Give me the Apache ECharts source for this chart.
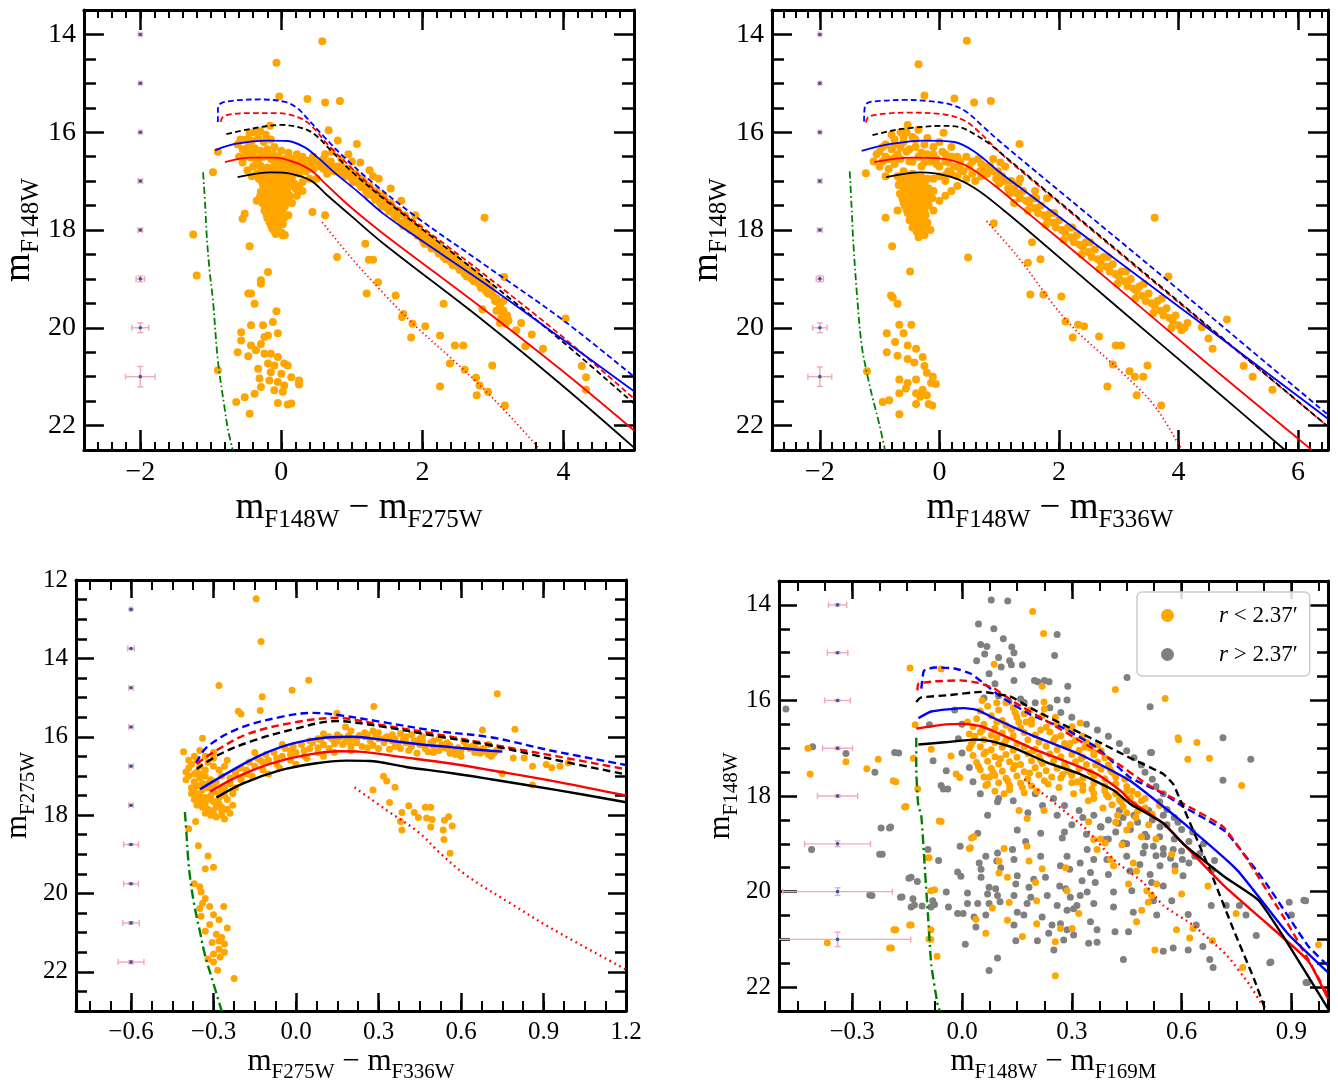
<!DOCTYPE html>
<html><head><meta charset="utf-8">
<script src="https://cdn.jsdelivr.net/npm/echarts@6/dist/echarts.min.js"></script>
<style>html,body{margin:0;padding:0;background:#fff}#c{width:1338px;height:1084px}</style>
</head><body><div id="c"></div>
<script>
// ---------------- tick labels ----------------
const p1XTicks=[-2,0,2,4], p2XTicks=[-2,0,2,4,6], p12YTicks=[14,16,18,20,22];
const p3XTicks=[-0.6,-0.3,0,0.3,0.6,0.9,1.2], p3YTicks=[12,14,16,18,20,22];
const p4XTicks=[-0.3,0,0.3,0.6,0.9], p4YTicks=[14,16,18,20,22];

// ---------------- panel 1: F148W vs F148W-F275W ----------------
const p1Base=[
[0.58,14.14],[-0.07,14.58],[-0.03,15.27],[0.37,15.32],[0.62,15.39],[0.83,15.36],[-0.16,15.87],[0.67,15.96],[0.8,16.17],[1.07,16.24],
[-0.9,16.4],[-0.97,16.82],[-0.45,16.02],[-0.38,16.0],[-0.3,15.98],[-0.22,16.05],[-0.5,16.15],[-0.42,16.18],[-0.33,16.12],[-0.25,16.2],[-0.15,16.15],[-0.55,16.35],[-0.47,16.3],[-0.38,16.33],[-0.3,16.38],[-0.2,16.35],[-0.1,16.3],[0.0,16.38],[0.1,16.42],[-0.52,16.5],[-0.43,16.52],[-0.33,16.55],[-0.25,16.5],[-0.15,16.55],[-0.05,16.5],[0.05,16.55],[0.15,16.55],[0.22,16.45],[-0.4,16.7],[-0.3,16.68],[-0.2,16.72],[-0.1,16.68],[0.0,16.7],[0.1,16.75],[0.2,16.7],[0.3,16.65],[0.38,16.58],[0.45,16.5],[-0.35,16.85],[-0.25,16.88],[-0.15,16.85],[-0.05,16.9],[0.05,16.88],[0.15,16.92],[0.25,16.85],[0.35,16.8],[0.45,16.75],[0.55,16.7],[0.6,16.55],[0.4,16.95],[0.3,17.02],[0.5,16.95],[0.65,16.85],
[-0.28,17.0],[-0.2,17.05],[-0.12,17.02],[-0.04,17.05],[0.04,17.05],[-0.25,17.15],[-0.17,17.18],[-0.09,17.15],[-0.01,17.2],[0.08,17.2],[-0.3,17.3],[-0.22,17.32],[-0.14,17.3],[-0.06,17.35],[0.02,17.35],[0.12,17.3],[-0.27,17.45],[-0.19,17.48],[-0.11,17.45],[-0.03,17.5],[0.05,17.52],[-0.24,17.6],[-0.16,17.62],[-0.08,17.6],[0.0,17.65],[-0.2,17.75],[-0.12,17.78],[-0.04,17.8],[-0.15,17.9],[-0.07,17.92],[0.02,17.88],[-0.1,18.02],[0.05,18.1],[-0.35,17.4],[0.15,17.45],[0.22,17.3],[0.3,17.2],[0.12,17.1],[0.2,17.15],[0.62,17.7],[-0.52,17.67],[-0.55,17.77],[-0.45,18.33],[0.02,18.11],[0.1,17.7],[0.44,17.63],
[0.45,16.5],[0.55,16.62],[0.6,16.75],[0.7,16.6],[0.75,16.8],[0.85,16.7],[0.9,16.9],[0.95,16.75],[1.0,16.95],[1.05,16.85],[1.1,17.05],[1.15,16.95],[1.2,17.2],[1.25,17.1],[1.3,17.3],[1.35,17.2],[1.4,17.45],[1.45,17.3],[1.5,17.55],[1.55,17.45],[1.6,17.7],[1.65,17.6],[1.7,17.85],[1.75,17.7],[1.8,17.95],[1.85,17.85],[1.9,18.05],[1.95,17.95],[2.0,18.2],[2.05,18.1],[2.1,18.3],[2.15,18.2],[2.2,18.4],[2.25,18.35],[2.3,18.55],[2.35,18.45],[2.4,18.65],[2.45,18.55],[2.5,18.75],[2.55,18.7],[2.6,18.9],[2.65,18.8],[2.7,19.0],[2.75,18.9],[2.8,19.1],[2.85,19.05],[2.9,19.25],[2.95,19.15],[3.0,19.35],[3.05,19.4],[3.1,19.55],[3.15,19.65],[3.12,19.8],[3.18,19.92],[3.05,19.65],[1.0,16.6],[1.3,16.9],[0.95,16.45],[1.12,16.62],[1.25,16.78],[1.38,16.95],[1.55,17.15],[0.72,16.4],[0.85,16.55],[1.7,17.4],[1.9,17.7],
[-0.19,18.86],[-0.29,19.03],[-0.29,19.1],[-0.47,19.3],[-0.43,19.3],[-0.38,19.51],[-0.07,19.66],[-0.12,19.88],[-0.43,19.95],[-0.26,19.95],[-0.57,20.09],[-0.19,20.16],[-0.05,20.11],[-0.24,20.19],[-0.57,20.26],[-0.43,20.36],[-0.29,20.33],[-0.62,20.5],[-0.36,20.46],[-0.24,20.53],[-0.15,20.53],[-0.05,20.6],[-0.47,20.58],[-0.19,20.73],[-0.1,20.77],[0.04,20.73],[0.09,20.77],[-0.33,20.84],[-0.15,20.91],[0.0,20.94],[0.14,21.01],[0.25,21.08],[0.25,21.16],[-0.31,21.04],[-0.17,21.08],[-0.05,21.11],[0.04,21.18],[-0.29,21.21],[-0.1,21.28],[0.02,21.31],[-0.52,21.42],[-0.38,21.35],[-0.64,21.52],[-0.05,21.54],[0.09,21.57],[0.14,21.55],[-0.45,21.76],[-0.9,20.87],[-1.2,18.93],[-1.25,18.09],
[2.88,17.75],[3.16,18.96],[1.19,18.28],[0.79,18.55],[1.24,18.61],[1.3,18.61],[1.37,19.07],[1.21,19.3],[1.62,19.34],[2.3,19.51],[1.71,19.78],[1.73,19.72],[1.86,19.92],[2.04,19.97],[1.84,20.2],[2.25,20.16],[2.46,20.36],[2.58,20.36],[2.39,20.73],[2.6,20.86],[2.76,21.02],[2.25,21.2],[2.77,21.38],[2.99,20.77],[2.81,21.18],[2.93,21.31],[2.85,19.62],[3.4,19.9],[3.33,20.05],[3.55,20.14],[3.71,20.43],[3.46,20.38],[4.03,19.81],[4.26,20.78],[4.32,21.01],[4.32,21.27],[3.17,21.59]
];
const p1Extra=[
[0.5,16.6],[0.62,16.65],[0.68,16.72],[0.78,16.7],[0.82,16.82],[0.88,16.8],[0.98,16.85],[1.02,17.02],[1.08,16.95],[1.13,17.12],[1.18,17.05],[1.22,17.28],[1.28,17.2],[1.33,17.38],[1.38,17.3],[1.43,17.52],[1.48,17.42],[1.53,17.62],[1.58,17.55],[1.63,17.75],[1.68,17.68],[1.73,17.92],[1.78,17.8],[1.83,18.0],[1.88,17.92],[1.93,18.12],[1.98,18.05],[2.03,18.28],[2.08,18.15],[2.13,18.38],[2.18,18.28],[2.23,18.48],[2.28,18.4],[2.33,18.6],[2.38,18.5],[2.43,18.72],[2.48,18.62],[2.53,18.82],[2.58,18.75],[2.63,18.95],[2.68,18.85],[2.73,19.05],[2.78,18.98],[2.83,19.18],[2.88,19.1],[2.93,19.3],[2.98,19.22],[3.03,19.45],[3.08,19.48],[3.13,19.7],[3.15,19.45],[3.2,19.75],[3.1,19.9],[3.22,19.85],
[-0.32,16.95],[-0.26,17.08],[-0.18,17.1],[-0.1,17.1],[-0.02,17.12],[0.06,17.12],[-0.29,17.22],[-0.21,17.24],[-0.13,17.22],[-0.05,17.27],[0.04,17.28],[-0.26,17.38],[-0.18,17.4],[-0.1,17.38],[-0.02,17.42],[0.08,17.42],[-0.23,17.53],[-0.15,17.55],[-0.07,17.54],[0.02,17.58],[-0.21,17.68],[-0.12,17.7],[-0.04,17.72],[0.04,17.75],[-0.17,17.83],[-0.09,17.85],[-0.01,17.87],[-0.13,17.97],[-0.05,18.0],[-0.08,18.08],[0.0,18.05],[-0.3,16.95],[-0.22,16.95],[-0.14,16.97],[-0.06,16.98],[0.02,16.98],[0.1,17.0],[0.18,17.05],[0.25,17.1],[-0.42,16.9],[-0.48,16.78],[-0.55,16.62],[-0.6,16.5],[-0.62,16.25],[-0.58,16.15],[-0.48,16.42],[-0.4,16.45],[-0.35,16.62],[-0.28,16.78],[-0.18,16.78],[-0.08,16.8],[0.02,16.82],[0.12,16.82],[0.22,16.78],[0.32,16.72],[0.42,16.68],[0.52,16.6],[0.62,16.45],[0.3,16.5],[0.25,16.6],[0.15,16.65],[0.05,16.62],[-0.05,16.6],[-0.12,16.45],[-0.2,16.45],[-0.28,16.45]
];
const p1Pts=p1Base.concat(p1Extra);
const p1BlueDash=[[-0.9,15.79],[-0.9,15.55],[-0.87,15.42],[-0.66,15.35],[-0.3,15.33],[0.05,15.38],[0.22,15.5],[0.37,15.72],[0.61,16.1],[0.89,16.51],[1.26,16.99],[1.92,17.74],[2.86,18.69],[4.0,19.85],[5.0,21.0]];
const p1RedDash=[[-0.86,15.79],[-0.83,15.69],[-0.7,15.63],[-0.43,15.61],[-0.05,15.61],[0.23,15.69],[0.42,15.86],[0.65,16.24],[0.98,16.71],[1.45,17.33],[2.86,18.89],[4.0,20.2],[5.0,21.45]];
const p1BlackDash=[[-0.78,16.04],[-0.43,15.93],[0.0,15.85],[0.28,15.91],[0.46,16.03],[0.7,16.37],[0.98,16.78],[1.45,17.36],[2.86,18.96],[4.0,20.3],[5.0,21.55]];
const p1BlueSolid=[[-0.94,16.37],[-0.66,16.24],[-0.19,16.17],[0.09,16.18],[0.32,16.3],[0.51,16.51],[0.75,16.82],[1.07,17.2],[1.45,17.67],[1.92,18.15],[2.86,19.07],[4.0,20.25],[5.0,21.3]];
const p1RedSolid=[[-0.8,16.61],[-0.43,16.52],[-0.1,16.52],[0.18,16.61],[0.42,16.78],[0.65,17.09],[0.98,17.53],[1.45,18.08],[2.86,19.61],[4.0,20.9],[5.0,22.1]];
const p1BlackSolid=[[-0.62,16.92],[-0.15,16.82],[0.14,16.85],[0.42,16.99],[0.65,17.29],[0.98,17.7],[1.45,18.28],[2.86,19.85],[4.0,21.2],[5.0,22.45]];
const p1Green=[[-1.11,16.82],[-1.08,17.5],[-1.06,18.08],[-1.02,18.8],[-0.97,19.44],[-0.9,20.67],[-0.8,21.69],[-0.76,22.06],[-0.69,22.5]];
const p1RedDot=[[0.58,17.84],[0.98,18.55],[1.45,19.3],[1.92,19.99],[2.39,20.6],[2.84,21.21],[3.3,21.9],[3.64,22.45]];
const p1Err=[[-2,14,0.02,0.02],[-2,15,0.02,0.02],[-2,16,0.02,0.02],[-2,17,0.03,0.03],[-2,18,0.03,0.03],[-2,19,0.06,0.06],[-2,20,0.12,0.1],[-2,21,0.21,0.21]];

// ---------------- panel 2: F148W vs F148W-F336W ----------------
const p2Base=[
[0.46,14.13],[-0.35,14.61],[-0.25,15.25],[0.25,15.31],[0.58,15.39],[0.86,15.36],[-0.53,15.85],[0.07,16.01],[1.34,16.24],[-1.23,16.84],
[-1.05,16.45],[-0.95,16.3],[-0.9,16.5],[-0.8,16.05],[-0.75,16.25],[-0.7,16.45],[-0.65,16.0],[-0.6,16.2],[-0.55,16.4],[-0.5,16.6],[-0.45,16.1],[-0.4,16.3],[-0.35,16.5],[-0.3,16.7],[-0.25,16.25],[-0.2,16.45],[-0.15,16.6],[-0.1,16.3],[-0.05,16.55],[0.0,16.7],[0.05,16.4],[0.1,16.6],[0.15,16.8],[0.2,16.5],[0.25,16.7],[0.3,16.9],[0.35,16.6],[0.4,16.8],[0.45,16.95],[0.5,16.7],[0.55,16.85],[-1.0,16.7],[-0.85,16.75],[-0.75,16.65],[-0.6,16.8],[-0.45,16.85],[-0.9,16.9],[-1.1,16.6],[0.6,17.0],[0.3,17.1],[0.1,17.0],[-0.55,16.0],[-0.35,15.95],[0.7,16.9],[0.8,16.7],
[-0.65,17.0],[-0.55,16.95],[-0.45,17.0],[-0.35,17.0],[-0.25,17.05],[-0.6,17.15],[-0.5,17.2],[-0.4,17.18],[-0.3,17.2],[-0.2,17.25],[-0.62,17.35],[-0.52,17.35],[-0.42,17.38],[-0.32,17.35],[-0.22,17.4],[-0.12,17.35],[-0.58,17.5],[-0.48,17.52],[-0.38,17.5],[-0.28,17.55],[-0.18,17.5],[-0.53,17.65],[-0.43,17.68],[-0.33,17.65],[-0.23,17.7],[-0.5,17.8],[-0.4,17.82],[-0.3,17.8],[-0.2,17.85],[-0.45,17.95],[-0.35,17.97],[-0.25,17.92],[-0.3,18.1],[-0.15,18.0],[-0.1,17.6],[0.0,17.4],[0.1,17.3],[-0.7,17.6],[-0.9,17.75],[-0.79,18.33],[-0.25,18.1],[-0.1,17.2],[0.2,17.2],[0.48,18.56],[0.91,17.86],
[0.65,16.55],[0.75,16.75],[0.85,16.7],[0.95,16.95],[1.05,16.9],[1.15,17.15],[1.2,17.0],[1.3,17.25],[1.4,17.2],[1.45,17.4],[1.55,17.35],[1.6,17.55],[1.7,17.5],[1.75,17.7],[1.85,17.65],[1.9,17.85],[2.0,17.8],[2.05,18.0],[2.15,17.95],[2.2,18.15],[2.3,18.1],[2.35,18.3],[2.45,18.25],[2.5,18.45],[2.6,18.4],[2.65,18.6],[2.75,18.55],[2.8,18.75],[2.9,18.7],[2.95,18.9],[3.05,18.85],[3.1,19.05],[3.2,19.0],[3.25,19.2],[3.35,19.15],[3.4,19.35],[3.5,19.3],[3.55,19.5],[3.65,19.45],[3.7,19.65],[3.8,19.6],[3.85,19.8],[3.95,19.75],[4.0,19.95],[4.1,20.0],[0.9,16.55],[1.1,16.7],[1.35,16.95],[1.6,17.2],[1.25,17.45],[1.8,17.35],
[1.55,18.25],[1.69,18.6],[1.48,18.67],[1.74,19.32],[1.52,19.32],[2.04,19.36],[2.11,19.87],[2.32,19.94],[2.42,19.97],[2.23,20.2],[2.67,20.18],[2.95,20.36],[3.04,20.36],[2.9,20.75],[3.18,20.89],[3.27,21.0],[3.41,21.0],[3.48,20.77],[2.81,21.2],[3.3,21.38],[3.71,21.59],[3.6,17.75],[3.83,18.95],[4.81,19.83],[4.5,20.22],[4.57,20.43],[4.39,19.99],[5.09,20.78],[5.24,21.0],[5.57,21.27],
[-0.49,18.85],[-0.81,19.34],[-0.78,19.38],[-0.7,19.51],[-0.88,20.11],[-0.67,19.94],[-0.47,19.94],[-0.6,20.11],[-0.74,20.29],[-0.53,20.36],[-0.88,20.5],[-0.7,20.57],[-0.39,20.43],[-0.53,20.64],[-0.42,20.71],[-0.25,20.78],[-0.28,20.6],[-0.21,20.92],[-0.11,21.0],[-0.67,21.06],[-0.53,21.13],[-0.39,21.06],[-0.14,21.13],[-0.06,21.15],[-0.56,21.24],[-0.28,21.27],[-0.39,21.34],[-0.67,21.34],[-0.95,21.52],[-0.84,21.48],[-0.32,21.41],[-0.18,21.56],[-0.12,21.59],[-0.67,21.77],[-1.21,20.89],[-0.39,21.56],[-0.21,21.38]
];
const p2Extra=[
[0.7,16.65],[0.8,16.85],[0.9,16.8],[1.0,17.05],[1.1,17.0],[1.25,17.15],[1.35,17.35],[1.5,17.45],[1.65,17.65],[1.8,17.75],[1.95,17.95],[2.1,18.05],[2.25,18.25],[2.4,18.35],[2.55,18.55],[2.7,18.65],[2.85,18.85],[3.0,18.95],[3.15,19.15],[3.3,19.25],[3.45,19.45],[3.6,19.55],[3.75,19.75],[3.9,19.85],[4.05,20.05],[4.15,19.9],[0.68,16.8],[0.98,16.8],[1.18,17.25],[1.48,17.6],[1.78,17.9],[2.08,18.2],[2.38,18.5],[2.68,18.8],[2.98,19.1],[3.28,19.4],[3.58,19.7],[3.88,20.0],[1.02,16.62],[1.32,17.05],[1.62,17.35],[1.92,17.65],[2.22,17.95],[2.52,18.25],[2.82,18.55],[3.12,18.85],[3.42,19.1],[3.72,19.4],
[-0.68,17.08],[-0.58,17.08],[-0.48,17.1],[-0.38,17.1],[-0.28,17.12],[-0.18,17.15],[-0.66,17.26],[-0.56,17.28],[-0.46,17.28],[-0.36,17.28],[-0.26,17.3],[-0.16,17.3],[-0.6,17.43],[-0.5,17.44],[-0.4,17.44],[-0.3,17.45],[-0.2,17.45],[-0.55,17.58],[-0.45,17.6],[-0.35,17.58],[-0.25,17.62],[-0.48,17.74],[-0.38,17.75],[-0.28,17.74],[-0.43,17.88],[-0.33,17.9],[-0.23,17.88],[-0.38,18.03],[-0.28,18.02],[-0.35,18.15],[-0.7,16.9],[-0.6,16.9],[-0.5,16.88],[-0.4,16.9],[-0.3,16.92],[-0.2,16.95],[-0.1,16.95],[0.0,16.9],[0.1,16.88],[0.2,16.85],[-0.95,16.6],[-0.85,16.55],[-0.75,16.52],[-0.65,16.55],[-0.45,16.6],[-0.25,16.62],[-0.05,16.65],[0.15,16.62],[0.35,16.75],[-1.0,16.4],[-0.9,16.25],[-0.8,16.35],[-0.65,16.32],[-0.5,16.35],[-0.3,16.42],[-0.1,16.45],[0.1,16.45],[0.3,16.5],[-0.75,16.15],[-0.6,16.1],[-0.4,16.15],[-0.2,16.12],[0.0,16.2],[0.2,16.3],[0.45,16.5],[0.55,16.6]
];
const p2Pts=p2Base.concat(p2Extra);
const p2BlueDash=[[-1.26,15.78],[-1.25,15.5],[-1.2,15.4],[-1.0,15.36],[-0.6,15.34],[-0.2,15.36],[0.18,15.43],[0.45,15.58],[0.7,15.85],[1.02,16.2],[2.5,17.7],[4.0,19.22],[6.5,21.78]];
const p2RedDash=[[-1.23,15.8],[-1.18,15.68],[-0.9,15.62],[-0.53,15.6],[0.04,15.63],[0.4,15.75],[0.65,15.98],[0.9,16.28],[1.2,16.62],[2.5,17.95],[4.0,19.48],[6.5,22.02]];
const p2BlackDash=[[-1.12,16.06],[-0.8,15.97],[-0.53,15.92],[0.04,15.87],[0.35,15.9],[0.6,16.05],[0.85,16.25],[1.1,16.5],[2.5,17.93],[4.0,19.46],[6.5,22.02]];
const p2BlueSolid=[[-1.3,16.38],[-0.81,16.24],[-0.25,16.17],[0.25,16.2],[0.6,16.41],[1.02,16.83],[1.5,17.27],[3.0,18.65],[4.5,20.02],[6.5,21.86]];
const p2RedSolid=[[-1.09,16.61],[-0.46,16.52],[0.04,16.54],[0.46,16.69],[0.88,17.05],[1.3,17.47],[3.0,19.2],[4.5,20.75],[6.23,22.5]];
const p2BlackSolid=[[-0.89,16.92],[-0.32,16.82],[0.18,16.91],[0.6,17.15],[1.09,17.61],[1.5,18.03],[3.0,19.6],[4.5,21.16],[5.78,22.5]];
const p2Green=[[-1.5,16.8],[-1.47,17.5],[-1.44,18.25],[-1.38,19.3],[-1.3,20.36],[-1.2,21.0],[-1.12,21.42],[-1.0,22.0],[-0.91,22.5]];
const p2RedDot=[[0.79,17.82],[1.3,18.53],[2.14,19.87],[3.06,20.92],[3.6,21.6],[4.01,22.4],[4.06,22.5]];
const p2Err=[[-2,14,0.02,0.02],[-2,15,0.02,0.02],[-2,16,0.02,0.02],[-2,17,0.03,0.03],[-2,18,0.04,0.03],[-2,19,0.06,0.06],[-2,20,0.12,0.1],[-2,21,0.2,0.2]];

// ---------------- panel 3: F275W vs F275W-F336W ----------------
const p3Base=[
[-0.145,12.48],[-0.127,13.57],[-0.28,14.69],[0.046,14.56],[-0.123,14.98],[-0.014,14.81],[0.732,14.9],[-0.13,15.33],[-0.21,15.35],[-0.2,15.42],[0.283,15.23],[0.678,15.83],[0.796,15.81],[0.149,15.4],[-0.409,16.38],[-0.34,16.04],
[-0.38,16.7],[-0.36,16.9],[-0.39,17.0],[-0.37,17.15],[-0.35,17.05],[-0.33,16.85],[-0.32,17.2],[-0.38,17.3],[-0.36,17.45],[-0.34,17.35],[-0.31,17.5],[-0.35,17.6],[-0.33,17.7],[-0.3,17.65],[-0.32,17.85],[-0.29,17.8],[-0.3,17.95],[-0.27,17.9],[-0.26,18.1],[-0.28,17.55],[-0.4,16.9],[-0.36,16.6],[-0.33,16.5],[-0.3,16.4],[-0.35,16.35],[-0.37,17.6],[-0.34,17.8],[-0.31,18.0],[-0.28,17.7],[-0.25,17.6],[-0.23,17.45],[-0.27,17.35],[-0.3,17.25],[-0.24,17.2],[-0.2,17.1],[-0.22,17.3],
[-0.27,17.0],[-0.22,16.95],[-0.18,16.85],[-0.2,17.05],[-0.15,16.75],[-0.12,16.85],[-0.1,16.6],[-0.07,16.7],[-0.05,16.5],[-0.02,16.6],[0.0,16.4],[0.03,16.5],[0.05,16.3],[0.08,16.4],[0.1,16.2],[0.12,16.3],[0.15,16.1],[0.17,16.2],[0.2,16.05],[0.22,16.15],[0.25,16.0],[0.27,16.1],[0.3,16.05],[0.32,16.15],[0.35,16.1],[0.37,16.2],[0.4,16.15],[0.42,16.25],[0.45,16.2],[0.47,16.3],[0.5,16.25],[0.52,16.35],[0.55,16.3],[0.57,16.4],[0.6,16.35],[0.62,16.25],[0.65,16.4],[0.68,16.3],[0.7,16.45],[0.73,16.35],[0.2,15.85],[0.25,15.9],[0.15,15.95],[0.3,15.9],[0.35,15.95],[0.12,16.0],[0.4,16.0],[0.45,16.05],[0.05,16.1],[-0.05,16.2],[-0.15,16.4],[-0.25,16.6],[-0.3,16.75],[0.18,15.75],[0.1,16.5],[0.0,16.7],[-0.1,16.95],[0.2,16.35],[0.3,16.3],[0.5,16.4],[0.55,16.15],[0.65,16.2],
[0.75,16.94],[0.79,16.54],[0.83,16.54],[0.86,16.75],[0.91,16.71],[0.93,16.79],[0.96,16.75],[0.99,16.67],[0.86,17.23],[0.71,16.5],
[0.318,17.01],[0.33,17.13],[0.28,17.36],[0.36,17.29],[0.34,17.68],[0.385,17.93],[0.38,18.16],[0.41,17.76],[0.43,17.93],[0.445,18.06],[0.47,17.8],[0.49,17.8],[0.475,18.07],[0.495,18.11],[0.54,18.13],[0.568,18.28],[0.49,18.3],[0.535,18.38],[0.538,18.62],[0.385,18.38],[0.56,18.97],[0.555,18.04],
[-0.365,18.16],[-0.39,18.35],[-0.355,18.78],[-0.32,19.04],[-0.33,19.37],[-0.3,19.33],[-0.37,19.75],[-0.35,19.83],[-0.345,19.96],[-0.33,20.13],[-0.314,20.33],[-0.263,20.33],[-0.35,20.38],[-0.3,20.54],[-0.345,20.58],[-0.28,20.67],[-0.314,20.79],[-0.25,20.88],[-0.33,20.96],[-0.29,21.04],[-0.27,21.12],[-0.305,21.25],[-0.26,21.29],[-0.28,21.42],[-0.3,21.54],[-0.276,21.62],[-0.26,21.5],[-0.3,21.75],[-0.285,21.96],[-0.225,22.17],[-0.32,21.67],[-0.28,21.21],[-0.34,20.25]
];
const p3Extra=[
[-0.39,16.8],[-0.37,16.95],[-0.35,16.95],[-0.33,17.0],[-0.31,17.1],[-0.29,17.15],[-0.36,17.25],[-0.34,17.2],[-0.32,17.3],[-0.3,17.4],[-0.28,17.45],[-0.26,17.5],[-0.37,17.4],[-0.35,17.5],[-0.33,17.55],[-0.31,17.6],[-0.29,17.72],[-0.27,17.8],[-0.25,17.85],[-0.33,17.95],[-0.31,17.88],[-0.29,18.05],[-0.27,18.0],[-0.24,17.95],[-0.23,17.75],[-0.26,17.3],[-0.24,17.05],[-0.22,16.9],[-0.4,17.1],[-0.38,17.45],[-0.36,17.75],[-0.34,17.65],[-0.39,16.6],[-0.37,16.5],[-0.35,16.75],[-0.32,16.65],[-0.3,16.55],[-0.28,16.85],[-0.26,16.75],[-0.2,16.8],[-0.17,16.65],[-0.14,16.55],[-0.11,16.45],[-0.08,16.4],[-0.04,16.3],[-0.01,16.25],[0.02,16.2],[0.06,16.15],[0.09,16.08],[0.13,16.05],[0.16,16.0],[0.19,15.98],[0.23,15.97],[0.26,15.95],[0.29,15.98],[0.33,16.0],[0.36,16.05],[0.39,16.08],[0.43,16.1],[0.46,16.12],[0.49,16.15],[0.53,16.2],[0.56,16.22],[0.59,16.28],[0.63,16.3],[0.66,16.33],[0.69,16.38],[0.72,16.42],[0.18,16.12],[0.28,16.22],[0.38,16.3],[0.48,16.38],[0.58,16.45],[0.08,16.28],[-0.02,16.45],[-0.12,16.65],[-0.22,16.88],[0.24,16.25],[0.34,16.32],[0.44,16.42],[0.14,16.4],[0.04,16.55],[-0.06,16.8],[-0.16,17.0],
[0.1,15.92],[0.14,16.18],[0.2,16.22],[0.26,16.28],[0.32,16.05],[0.36,16.25],[0.41,16.35],[0.46,16.0],[0.5,16.1],[0.54,16.28],[0.58,16.35],[0.61,16.12],[0.64,16.25],[0.67,16.42],[0.7,16.2],[0.74,16.3],[0.08,16.05],[0.22,16.05],[0.28,15.85],[0.38,15.92],[0.42,15.95],[0.52,16.05],[0.56,16.42],[0.6,16.5],[0.03,16.35],[-0.02,16.35],[-0.07,16.55],[-0.13,16.6],[-0.18,16.95],[-0.24,17.15]
];
const p3Pts=p3Base.concat(p3Extra);
const p3BlueDash=[[-0.363,16.67],[-0.325,16.27],[-0.216,15.81],[-0.059,15.5],[0.062,15.39],[0.158,15.45],[0.327,15.64],[0.508,15.85],[0.714,16.02],[0.926,16.35],[1.2,16.72]];
const p3RedDash=[[-0.361,16.69],[-0.301,16.4],[-0.18,15.94],[-0.011,15.64],[0.146,15.52],[0.327,15.72],[0.508,15.93],[0.714,16.2],[0.95,16.5],[1.2,16.83]];
const p3BlackDash=[[-0.361,16.82],[-0.276,16.44],[-0.156,16.1],[-0.011,15.81],[0.146,15.6],[0.303,15.73],[0.508,15.98],[0.714,16.23],[0.95,16.6],[1.2,16.96]];
const p3BlueSolid=[[-0.349,17.34],[-0.253,16.94],[-0.132,16.48],[-0.011,16.17],[0.11,16.02],[0.207,16.0],[0.327,16.09],[0.448,16.19],[0.569,16.27],[0.66,16.33],[0.75,16.38]];
const p3RedSolid=[[-0.313,17.4],[-0.216,17.03],[-0.095,16.69],[0.025,16.48],[0.158,16.37],[0.23,16.38],[0.388,16.52],[0.569,16.69],[0.714,16.86],[0.95,17.15],[1.2,17.5]];
const p3BlackSolid=[[-0.289,17.55],[-0.192,17.19],[-0.059,16.86],[0.062,16.69],[0.182,16.61],[0.267,16.62],[0.4,16.77],[0.569,16.93],[0.714,17.09],[0.95,17.36],[1.2,17.67]];
const p3Green=[[-0.404,17.92],[-0.398,18.5],[-0.393,19.04],[-0.385,19.6],[-0.37,20.29],[-0.35,20.95],[-0.332,21.54],[-0.3,22.3],[-0.27,23.0]];
const p3RedDot=[[0.213,17.29],[0.327,17.86],[0.448,18.45],[0.521,18.95],[0.62,19.54],[0.78,20.25],[0.926,20.88],[1.2,21.94]];
const p3Err=[[-0.6,12.75,0.005,0.01],[-0.6,13.75,0.012,0.01],[-0.6,14.75,0.008,0.01],[-0.6,15.75,0.008,0.01],[-0.6,16.75,0.008,0.01],[-0.6,17.75,0.008,0.01],[-0.6,18.75,0.027,0.02],[-0.6,19.75,0.027,0.02],[-0.6,20.75,0.03,0.03],[-0.6,21.75,0.047,0.04]];

// ---------------- panel 4: F148W vs F148W-F169M ----------------
const p4Gray=[
[0.08,13.9],[0.125,13.92],[0.045,14.4],[0.087,14.5],[0.113,14.71],[0.051,14.83],[0.136,14.88],[0.142,15.0],[0.062,15.03],[0.1,15.1],[0.13,15.17],[0.04,15.17],[0.107,15.3],[0.135,15.25],[0.074,15.44],[0.142,15.58],[0.09,15.65],[0.26,14.62],[0.253,15.06],[0.207,15.61],[0.238,15.61],[0.289,15.7],[0.287,15.99],[0.451,15.52],[0.068,14.87],[0.165,15.26],[0.198,15.58],[0.225,15.58],[0.26,15.99],[0.128,16.02],[0.17,16.04],
[-0.02,16.2],[0.0,16.5],[-0.01,16.8],[0.0,17.1],[0.02,17.4],[0.03,17.7],[0.05,17.95],[0.1,18.05],[0.14,18.1],[0.2,17.95],[0.25,18.05],[0.28,18.2],[0.32,18.3],[0.06,15.95],[0.1,15.9],[0.16,15.97],[0.2,16.05],[0.24,16.15],[0.27,16.25],[0.3,16.35],[0.34,16.5],[0.37,16.62],[0.4,16.75],[0.43,16.9],[0.45,17.05],[0.47,17.2],[0.49,17.35],[0.5,17.5],[0.52,17.65],[0.53,17.8],[0.55,17.95],[0.54,18.12],[0.56,18.28],[0.58,18.45],[0.518,17.09],[0.514,16.13],
[0.36,18.4],[0.4,18.5],[0.44,18.45],[0.48,18.55],[0.52,18.5],[0.56,18.6],[0.6,18.7],[0.38,18.65],[0.42,18.75],[0.46,18.7],[0.5,18.8],[0.54,18.85],[0.58,18.9],[0.62,18.95],[0.34,18.8],[0.4,18.9],[0.45,19.0],[0.5,19.05],[0.55,19.1],[0.6,19.15],[0.65,19.2],[0.3,18.6],[0.33,18.45],[0.43,18.3],[0.47,18.4],[0.51,18.3],[0.55,18.4],[0.59,18.55],[0.63,18.75],[0.66,19.0],[0.26,18.4],[0.22,18.2],[0.18,18.35],[0.28,18.75],[0.62,19.4],[0.57,19.3],[0.53,19.25],[0.69,19.35],[0.097,18.12],[0.151,18.71],[0.043,18.78],[0.07,18.4],
[-0.481,16.18],[-0.408,16.97],[-0.238,17.5],[-0.317,17.11],[-0.173,17.1],[-0.221,18.67],[-0.218,19.22],[-0.411,19.12],[-0.246,20.08],[-0.164,20.11],[-0.139,19.7],[-0.13,20.28],[-0.079,17.26],[-0.051,17.85],[-0.085,20.32],[-0.184,17.09],[-0.198,18.67],[-0.057,17.78],[-0.039,17.85],[-0.043,17.47],[-0.089,16.51],
[0.713,16.78],[0.789,17.23],[0.713,17.67],[0.515,17.09],[0.683,19.55],[0.934,20.18],[0.841,21.49],[0.9,20.49],[0.94,21.9],
[-0.195,18.65],[-0.225,19.22],[-0.252,20.07],[-0.168,20.12],[-0.145,19.72],[-0.122,19.79],[-0.134,20.15],[-0.139,20.32],[-0.109,20.3],[-0.093,19.12],[-0.064,19.35],[-0.08,20.19],[-0.075,20.27],[-0.043,20.01],[-0.037,20.32],[-0.005,19.05],[-0.012,19.59],[-0.003,19.68],[-0.012,20.46],[0.003,20.46],[0.009,21.1],[0.015,20.03],[0.015,20.25],[0.038,20.74],[0.043,20.25],[0.033,20.53],[0.047,19.4],[0.052,19.53],[0.052,19.7],[0.065,19.26],[0.074,19.91],[0.07,20.05],[0.074,20.25],[0.065,20.49],[0.097,19.19],[0.095,19.36],[0.106,19.5],[0.092,19.94],[0.097,20.08],[0.104,20.21],[0.097,21.39],[0.074,21.65],[0.138,19.12],[0.142,19.33],[0.151,19.67],[0.147,19.84],[0.142,20.08],[0.151,20.43],[0.142,20.7],[0.147,21.03],[0.169,20.49],[0.178,20.25],[0.188,20.12],[0.183,19.91],[0.196,19.74],[0.174,18.95],[0.215,18.78],[0.215,19.26],[0.228,19.7],[0.233,20.08],[0.219,20.53],[0.206,21.03],[0.237,20.87],[0.246,20.7],[0.26,20.29],[0.267,19.88],[0.269,19.46],[0.274,18.88],[0.287,19.26],[0.294,19.53],[0.283,19.94],[0.296,20.12],[0.287,20.39],[0.269,20.67],[0.287,20.8],[0.305,20.91],[0.278,21.01],[0.251,21.22],[0.305,20.36],[0.314,20.29],[0.323,20.08],[0.328,19.77],[0.323,19.4],[0.342,19.12],[0.36,19.33],[0.351,19.6],[0.364,19.81],[0.342,20.01],[0.36,20.25],[0.351,20.63],[0.369,20.8],[0.346,21.08],[0.369,21.06],[0.378,18.64],[0.391,18.91],[0.396,19.33],[0.4,19.64],[0.414,20.01],[0.414,20.32],[0.418,20.84],[0.441,21.42],[0.427,18.57],[0.441,18.98],[0.45,19.26],[0.459,19.57],[0.464,19.98],[0.455,20.84],[0.468,20.43],[0.486,19.43],[0.495,19.19],[0.505,18.85],[0.514,19.64],[0.518,19.81],[0.523,20.19],[0.532,20.49],[0.523,19.05],[0.541,18.64],[0.541,19.46],[0.55,19.88],[0.55,19.22],[0.573,20.19],[0.582,19.46],[0.577,19.12],[0.602,19.33],[0.604,19.67],[0.618,20.48],[0.64,20.7],[0.618,21.22],[0.658,21.15],[0.686,21.59],[0.677,21.42],[0.681,20.29],[0.636,19.26],[0.722,20.29],[0.758,20.29],[0.776,20.49],[0.804,20.92],[0.844,21.47],[0.894,20.22],[0.939,20.19],[0.944,21.9],[0.577,21.18],[0.55,21.25]
];
const p4OrangeBase=[
[0.07,16.12],[0.1,16.2],[0.14,16.15],[0.12,16.05],[0.05,16.22],
[0.04,16.38],[0.08,16.32],[0.11,16.42],[0.15,16.35],[0.19,16.4],[0.22,16.32],[0.17,16.28],
[0.03,16.55],[0.06,16.5],[0.09,16.58],[0.12,16.52],[0.16,16.57],[0.19,16.5],[0.23,16.56],[0.26,16.49],[0.29,16.6],
[0.02,16.7],[0.05,16.66],[0.08,16.73],[0.11,16.68],[0.14,16.74],[0.17,16.67],[0.2,16.72],[0.24,16.66],[0.27,16.74],[0.3,16.68],[0.33,16.75],
[0.03,16.85],[0.06,16.82],[0.09,16.88],[0.12,16.83],[0.15,16.9],[0.18,16.82],[0.21,16.87],[0.25,16.84],[0.28,16.9],[0.31,16.83],[0.34,16.88],[0.37,16.93],
[0.02,17.0],[0.05,16.97],[0.08,17.03],[0.11,16.98],[0.14,17.04],[0.17,16.97],[0.2,17.02],[0.23,16.96],[0.26,17.03],[0.29,16.98],[0.32,17.04],[0.35,16.99],[0.38,17.05],
[0.03,17.15],[0.06,17.12],[0.09,17.18],[0.12,17.13],[0.15,17.19],[0.18,17.11],[0.21,17.17],[0.24,17.12],[0.27,17.18],[0.3,17.13],[0.33,17.19],[0.36,17.14],[0.39,17.2],
[0.04,17.3],[0.07,17.27],[0.1,17.33],[0.13,17.28],[0.16,17.34],[0.19,17.26],[0.22,17.32],[0.25,17.27],[0.28,17.33],[0.31,17.28],[0.34,17.34],[0.37,17.29],[0.4,17.35],
[0.05,17.45],[0.08,17.42],[0.11,17.48],[0.14,17.43],[0.17,17.49],[0.2,17.41],[0.23,17.47],[0.26,17.42],[0.29,17.48],[0.32,17.43],[0.35,17.49],[0.38,17.44],[0.41,17.5],
[0.06,17.6],[0.09,17.57],[0.12,17.63],[0.15,17.58],[0.18,17.64],[0.21,17.56],[0.27,17.62],[0.3,17.57],[0.33,17.63],[0.36,17.58],[0.39,17.64],[0.42,17.6],
[0.07,17.75],[0.1,17.72],[0.13,17.78],[0.16,17.73],[0.19,17.79],[0.3,17.72],[0.33,17.78],[0.36,17.73],[0.39,17.79],[0.42,17.74],[0.45,17.8],
[0.09,17.9],[0.13,17.87],[0.17,17.93],[0.33,17.88],[0.36,17.94],[0.39,17.89],[0.42,17.95],[0.45,17.9],[0.48,17.96],
[0.36,18.05],[0.4,18.02],[0.43,18.08],[0.46,18.04],[0.49,18.1],[0.41,18.18],[0.44,18.22],[0.47,18.17],[0.5,18.25],[0.45,18.35],[0.48,18.32],[0.52,18.38],
[0.193,14.14],[0.223,14.6],[-0.142,15.32],[0.219,15.7],[0.419,15.77],[0.555,15.96],[-0.057,15.34],[0.088,15.24],[0.224,16.03],[0.592,16.82],[0.642,16.88],[0.617,17.23],[0.676,17.21],[0.764,17.78],[0.59,16.78],[0.301,16.55],[0.323,16.47],
[-0.133,17.21],[-0.128,16.51],[-0.421,17.0],[-0.415,17.54],[-0.317,17.28],[-0.26,17.43],[-0.229,17.23],[-0.181,17.7],[-0.153,18.22],[-0.121,17.85],[-0.057,18.53],[-0.006,17.61],[0.023,19.08],[0.026,18.88],[-0.09,19.29],[-0.085,19.98],[-0.139,20.7],[-0.181,20.8],[-0.193,21.18],[-0.368,21.07],[-0.085,20.8],[-0.085,21.0],[0.255,21.76],[-0.188,17.68],[-0.157,18.23],[-0.062,18.52],[-0.084,17.02],[-0.03,17.16],[-0.016,17.54],[0.156,18.3],[0.224,18.3],[0.178,18.47],
[-0.093,19.29],[-0.075,19.96],[-0.09,20.99],[-0.068,21.35],[-0.186,20.8],[-0.143,20.7],[-0.198,21.18],[0.032,18.85],[0.02,19.1],[0.115,19.1],[0.101,19.36],[0.101,19.61],[0.124,19.7],[0.083,20.34],[0.129,20.23],[0.124,20.6],[0.165,20.94],[0.065,20.87],[0.038,20.58],[0.178,19.05],[0.183,19.36],[0.201,19.81],[0.204,20.19],[0.204,20.67],[0.219,19.52],[0.283,19.5],[0.287,19.98],[0.269,20.77],[0.301,20.77],[0.255,21.05],[0.319,20.46],[0.346,18.54],[0.36,18.91],[0.378,18.9],[0.369,19.12],[0.391,18.98],[0.405,19.33],[0.414,19.46],[0.437,19.02],[0.45,18.71],[0.468,19.4],[0.477,19.57],[0.455,19.84],[0.477,20.63],[0.491,20.39],[0.505,19.98],[0.518,20.08],[0.509,20.22],[0.532,19.84],[0.527,21.22],[0.573,19.22],[0.582,19.57],[0.6,20.05],[0.586,20.8],[0.622,20.97],[0.631,20.77],[0.672,19.88],[0.684,21.03],[0.749,20.46],[0.767,21.59],[0.974,21.11]
];
const p4OrangeExtra=[
[0.015,16.45],[0.055,16.62],[0.095,16.78],[0.135,16.6],[0.175,16.45],[0.215,16.62],[0.255,16.78],[0.295,16.9],[0.335,16.98],[0.36,17.08],[0.025,16.92],[0.065,17.08],[0.105,17.22],[0.145,17.36],[0.185,17.52],[0.225,17.68],[0.265,17.82],[0.305,17.95],[0.345,18.1],[0.385,18.25],[0.425,18.4],[0.045,17.38],[0.085,17.5],[0.125,17.68],[0.165,17.82],[0.205,17.9],[0.245,17.6],[0.285,17.4],[0.325,17.22],[0.365,17.35],[0.405,17.45],[0.445,17.65],[0.465,17.9],[0.5,18.05],[0.055,16.0],[0.095,16.05],[0.145,16.25],[0.185,16.2],[0.225,16.18],[0.255,16.35],[0.155,16.45],[0.095,16.45],[0.035,16.75],[0.065,17.78],[0.115,17.95],[0.235,17.75],[0.215,17.25],[0.195,17.05],[0.115,16.9],[0.075,17.6],[0.275,17.55],[0.315,17.7],[0.355,17.85],[0.395,17.98],[0.435,18.12],[0.475,18.45],[0.51,18.6],[0.54,18.2],[0.53,18.9],[0.49,18.85],[0.46,18.6],[0.42,18.55]
];
const p4Orange=p4OrangeBase.concat(p4OrangeExtra);
const p4BlueDash=[[-0.111,15.75],[-0.104,15.38],[-0.075,15.31],[-0.021,15.33],[0.024,15.44],[0.061,15.65],[0.106,15.92],[0.188,16.3],[0.278,16.58],[0.369,16.99],[0.459,17.61],[0.55,17.95],[0.6,18.2],[0.719,18.74],[0.832,19.84],[0.946,21.14],[1.0,21.55]];
const p4RedDash=[[-0.122,15.79],[-0.119,15.65],[-0.075,15.6],[-0.003,15.58],[0.043,15.63],[0.088,15.75],[0.142,16.03],[0.233,16.44],[0.323,16.85],[0.414,17.26],[0.505,17.75],[0.595,18.12],[0.713,18.64],[0.776,19.29],[0.889,20.66],[0.946,21.42],[1.0,22.17]];
const p4BlackDash=[[-0.125,16.03],[-0.113,15.94],[-0.039,15.89],[0.052,15.82],[0.133,15.92],[0.188,16.16],[0.278,16.51],[0.369,16.85],[0.459,17.2],[0.55,17.54],[0.577,17.75],[0.589,17.95],[0.674,19.49],[0.742,20.8],[0.798,21.83],[0.83,22.5]];
const p4BlueSolid=[[-0.119,16.37],[-0.084,16.23],[0.006,16.16],[0.043,16.2],[0.079,16.34],[0.188,16.72],[0.323,17.13],[0.459,17.68],[0.595,18.5],[0.753,19.56],[0.889,20.87],[1.0,21.69]];
const p4RedSolid=[[-0.125,16.59],[-0.057,16.51],[0.006,16.49],[0.052,16.54],[0.097,16.68],[0.188,16.99],[0.278,17.26],[0.369,17.54],[0.432,17.88],[0.459,18.09],[0.55,18.57],[0.606,19.01],[0.719,19.9],[0.832,20.66],[0.946,21.45],[1.0,22.24]];
const p4BlackSolid=[[-0.119,16.92],[-0.039,16.87],[0.033,16.82],[0.079,16.85],[0.142,16.99],[0.233,17.3],[0.323,17.54],[0.414,17.88],[0.459,18.16],[0.55,18.57],[0.606,19.01],[0.719,19.7],[0.81,20.18],[0.889,21.07],[1.0,22.45]];
const p4Green=[[-0.125,16.78],[-0.125,17.43],[-0.12,18.16],[-0.111,18.43],[-0.102,19.46],[-0.093,20.49],[-0.084,21.53],[-0.066,22.39],[-0.06,22.5]];
const p4RedDot=[[0.17,17.65],[0.233,18.02],[0.287,18.36],[0.342,18.71],[0.414,19.33],[0.495,19.81],[0.55,20.29],[0.631,20.7],[0.722,21.32],[0.785,21.94],[0.822,22.39]];
const p4Err=[[-0.34,14,0.025,0.02],[-0.34,15,0.028,0.02],[-0.34,16,0.035,0.02],[-0.34,17,0.041,0.03],[-0.34,18,0.055,0.03],[-0.34,19,0.09,0.06],[-0.34,20,0.15,0.08],[-0.34,21,0.2,0.15]];

// ---------------- rendering ----------------
const FONT='Liberation Serif';
const ORANGE='#ffa500', GRAY='#808080';
function rng(a,b,s){const r=[];for(let k=0;;k++){const v=+(a+k*s).toFixed(5);if(v>b+1e-9)break;r.push(v);}return r;}
function fmt(dec){return v=>{const s=dec?(+v).toFixed(dec):String(Math.round(v));return s.replace('-','\u2212');};}
function xName(a,b){return '{m|m}{s|'+a+'}{m| \u2212 m}{s|'+b+'}';}
function yName(a){return '{m|m}{s|'+a+'}';}

const panels=[
 {grid:{left:78,top:10,width:556,height:440},x:[-2.8,5.0],y:[13.5,22.5],xMaj:p1XTicks,xMin:rng(-2.8,5.0,0.2),yMaj:p12YTicks,yMin:rng(13.5,22.5,0.5),dec:0,fs:28,mfs:37,sfs:25,xN:xName('F148W','F275W'),yN:yName('F148W'),xGap:34,yGap:38,L:20,lx:8,ly:12,ps:8,lw:1.8},
 {grid:{left:772,top:10,width:556,height:440},x:[-2.8,6.5],y:[13.5,22.5],xMaj:p2XTicks,xMin:rng(-2.8,6.5,0.2),yMaj:p12YTicks,yMin:rng(13.5,22.5,0.5),dec:0,fs:28,mfs:37,sfs:25,xN:xName('F148W','F336W'),yN:yName('F148W'),xGap:34,yGap:38,L:20,lx:8,ly:12,ps:8,lw:1.8},
 {grid:{left:76,top:580,width:550,height:438},x:[-0.8,1.2],y:[12,23],xMaj:p3XTicks,xMin:rng(-0.75,1.2,0.075),yMaj:p3YTicks,yMin:rng(12,23,0.5),dec:1,fs:25,mfs:31,sfs:21,xN:xName('F275W','F336W'),yN:yName('F275W'),xGap:28,yGap:34,L:18,lx:10,ly:11,ps:7,lw:2.4},
 {grid:{left:779,top:581,width:549,height:436},x:[-0.5,1.0],y:[13.5,22.5],xMaj:p4XTicks,xMin:rng(-0.45,1.0,0.075),yMaj:p4YTicks,yMin:rng(13.5,22.5,0.5),dec:1,fs:25,mfs:31,sfs:21,xN:xName('F148W','F169M'),yN:yName('F148W'),xGap:28,yGap:34,L:18,lx:10,ly:11,ps:7,lw:2.4}
];
const lineSets=[
 [p1BlueDash,p1RedDash,p1BlackDash,p1BlueSolid,p1RedSolid,p1BlackSolid,p1Green,p1RedDot],
 [p2BlueDash,p2RedDash,p2BlackDash,p2BlueSolid,p2RedSolid,p2BlackSolid,p2Green,p2RedDot],
 [p3BlueDash,p3RedDash,p3BlackDash,p3BlueSolid,p3RedSolid,p3BlackSolid,p3Green,p3RedDot],
 [p4BlueDash,p4RedDash,p4BlackDash,p4BlueSolid,p4RedSolid,p4BlackSolid,p4Green,p4RedDot]
];
const lineStyles=[
 {color:'#0000ff',type:'dash'},{color:'#ff0000',type:'dash'},{color:'#000000',type:'dash'},
 {color:'#0000ff',type:'solid'},{color:'#ff0000',type:'solid'},{color:'#000000',type:'solid'},
 {color:'#008000',type:'dashdot'},{color:'#ff0000',type:'dot'}
];
const errSets=[p1Err,p2Err,p3Err,p4Err];

const grids=[],xAxes=[],yAxes=[],series=[];
panels.forEach((p,i)=>{
  grids.push(Object.assign({containLabel:false,show:false},p.grid));
  const rich={m:{fontFamily:FONT,fontSize:p.mfs,color:'#000',lineHeight:p.mfs+12,verticalAlign:'middle'},
              s:{fontFamily:FONT,fontSize:p.sfs,color:'#000',lineHeight:p.sfs+1,verticalAlign:'bottom'}};
  const common={type:'value',gridIndex:i,splitLine:{show:false},scale:true};
  const tickW=2.5;
  xAxes.push(Object.assign({},common,{position:'bottom',min:p.x[0],max:p.x[1],
    axisLine:{show:true,onZero:false,lineStyle:{color:'#000',width:3}},
    axisTick:{show:true,inside:true,length:p.L,lineStyle:{color:'#000',width:tickW},customValues:p.xMaj},
    axisLabel:{show:true,customValues:p.xMaj,formatter:fmt(p.dec),fontFamily:FONT,fontSize:p.fs,color:'#000',margin:9},
    name:p.xN,nameLocation:'middle',nameGap:p.xGap,nameTextStyle:{rich:rich}}));
  xAxes.push(Object.assign({},common,{position:'bottom',min:p.x[0],max:p.x[1],axisLine:{show:false,onZero:false},
    axisTick:{show:true,inside:true,length:p.lx,lineStyle:{color:'#000',width:2},customValues:p.xMin},axisLabel:{show:false}}));
  xAxes.push(Object.assign({},common,{position:'top',min:p.x[0],max:p.x[1],
    axisLine:{show:true,onZero:false,lineStyle:{color:'#000',width:3}},
    axisTick:{show:true,inside:true,length:p.L,lineStyle:{color:'#000',width:tickW},customValues:p.xMaj},axisLabel:{show:false}}));
  xAxes.push(Object.assign({},common,{position:'top',min:p.x[0],max:p.x[1],axisLine:{show:false,onZero:false},
    axisTick:{show:true,inside:true,length:p.lx,lineStyle:{color:'#000',width:2},customValues:p.xMin},axisLabel:{show:false}}));
  yAxes.push(Object.assign({},common,{position:'left',inverse:true,min:p.y[0],max:p.y[1],
    axisLine:{show:true,onZero:false,lineStyle:{color:'#000',width:3}},
    axisTick:{show:true,inside:true,length:p.L,lineStyle:{color:'#000',width:tickW},customValues:p.yMaj},
    axisLabel:{show:true,customValues:p.yMaj,formatter:fmt(0),fontFamily:FONT,fontSize:p.fs,color:'#000',margin:8},
    name:p.yN,nameLocation:'middle',nameRotate:90,nameGap:p.yGap,nameTextStyle:{rich:rich}}));
  yAxes.push(Object.assign({},common,{position:'left',inverse:true,min:p.y[0],max:p.y[1],axisLine:{show:false,onZero:false},
    axisTick:{show:true,inside:true,length:p.ly,lineStyle:{color:'#000',width:2.5},customValues:p.yMin},axisLabel:{show:false}}));
  yAxes.push(Object.assign({},common,{position:'right',inverse:true,min:p.y[0],max:p.y[1],
    axisLine:{show:true,onZero:false,lineStyle:{color:'#000',width:3}},
    axisTick:{show:true,inside:true,length:p.L,lineStyle:{color:'#000',width:tickW},customValues:p.yMaj},axisLabel:{show:false}}));
  yAxes.push(Object.assign({},common,{position:'right',inverse:true,min:p.y[0],max:p.y[1],axisLine:{show:false,onZero:false},
    axisTick:{show:true,inside:true,length:p.ly,lineStyle:{color:'#000',width:2.5},customValues:p.yMin},axisLabel:{show:false}}));
  const xi=4*i, yi=4*i;
  if(i===3){
    series.push({type:'scatter',name:'r > 2.37\u2032',xAxisIndex:xi,yAxisIndex:yi,data:p4Gray,symbolSize:p.ps,itemStyle:{color:GRAY,opacity:1},z:2,silent:true});
    series.push({type:'scatter',name:'r < 2.37\u2032',xAxisIndex:xi,yAxisIndex:yi,data:p4Orange,symbolSize:p.ps,itemStyle:{color:ORANGE,opacity:1},z:2,silent:true});
  } else {
    const pts=[p1Pts,p2Pts,p3Pts][i];
    series.push({type:'scatter',xAxisIndex:xi,yAxisIndex:yi,data:pts,symbolSize:p.ps,itemStyle:{color:ORANGE,opacity:1},z:2,silent:true});
  }
  lineSets[i].forEach((d,k)=>{
    const st=lineStyles[k];
    let dash='solid', w=p.lw;
    if(st.type==='dash') dash=[w*3.2,w*1.8];
    else if(st.type==='dashdot') dash=[w*4,w*1.6,w*0.9,w*1.6];
    else if(st.type==='dot') dash=[w*0.7,w*1.6];
    series.push({type:'line',xAxisIndex:xi,yAxisIndex:yi,data:d,showSymbol:false,symbol:'none',smooth:(i===3?0.15:0.35),
      lineStyle:{color:st.color,width:w,type:dash},z:3,silent:true,clip:true,animation:false});
  });
  series.push({type:'custom',xAxisIndex:xi,yAxisIndex:yi,data:errSets[i],z:4,silent:true,clip:true,
    renderItem:function(params,api){
      const x=api.value(0),y=api.value(1),ex=api.value(2),ey=api.value(3);
      const c=api.coord([x,y]),l=api.coord([x-ex,y]),r=api.coord([x+ex,y]),t=api.coord([x,y-ey]),b=api.coord([x,y+ey]);
      const cap=3, st={stroke:'#f4a7b9',lineWidth:1.4};
      const ch=[
        {type:'line',shape:{x1:l[0],y1:c[1],x2:r[0],y2:c[1]},style:st},
        {type:'line',shape:{x1:c[0],y1:t[1],x2:c[0],y2:b[1]},style:st},
        {type:'line',shape:{x1:l[0],y1:c[1]-cap,x2:l[0],y2:c[1]+cap},style:st},
        {type:'line',shape:{x1:r[0],y1:c[1]-cap,x2:r[0],y2:c[1]+cap},style:st},
        {type:'line',shape:{x1:c[0]-cap,y1:t[1],x2:c[0]+cap,y2:t[1]},style:st},
        {type:'line',shape:{x1:c[0]-cap,y1:b[1],x2:c[0]+cap,y2:b[1]},style:st},
        {type:'circle',shape:{cx:c[0],cy:c[1],r:1.8},style:{fill:'#2c5d9e'}}
      ];
      return {type:'group',children:ch};
    }});
});

const chart=echarts.init(document.getElementById('c'),null,{renderer:'canvas'});
chart.setOption({
  animation:false,backgroundColor:'#fff',
  grid:grids,xAxis:xAxes,yAxis:yAxes,series:series,
  legend:{data:['r < 2.37\u2032','r > 2.37\u2032'],orient:'vertical',left:1137,top:592,
    itemWidth:13,itemHeight:13,itemGap:16,icon:'circle',padding:[12,12,10,24],
    backgroundColor:'rgba(255,255,255,0.85)',borderColor:'#cccccc',borderWidth:1.5,borderRadius:5,
    formatter:n=>'{i|r}'+n.slice(1),
    textStyle:{fontFamily:FONT,fontSize:23,color:'#000',padding:[0,0,0,40],
      rich:{i:{fontFamily:FONT,fontSize:23,fontStyle:'italic',color:'#000'}}}}
});
</script></body></html>
